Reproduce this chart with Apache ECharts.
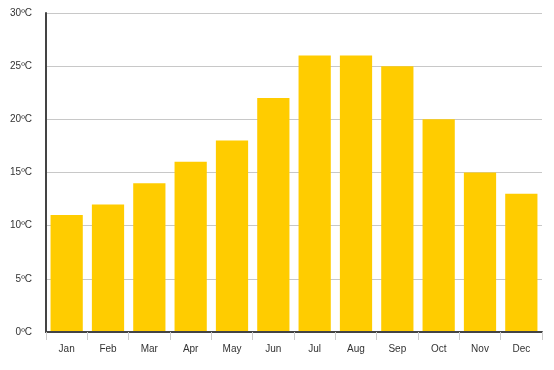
<!DOCTYPE html>
<html><head><meta charset="utf-8">
<script src="https://cdn.jsdelivr.net/npm/echarts@6/dist/echarts.min.js"></script>
<style>html,body{margin:0;padding:0;background:#fff}#c{width:554px;height:370px}</style>
</head><body><div id="c"></div>
<script>
const months = ['Jan','Feb','Mar','Apr','May','Jun','Jul','Aug','Sep','Oct','Nov','Dec'];
const temps = [11,12,14,16,18,22,26,26,25,20,15,13];
const yMin = 0, yMax = 30, yStep = 5;
const chart = echarts.init(document.getElementById('c'), null, {renderer:'canvas'});
chart.setOption({
  animation:false,
  grid:{left:46,right:12,top:13,bottom:38,containLabel:false},
  xAxis:{type:'category',data:months,z:5,
    axisLine:{lineStyle:{color:'#444',width:2}},
    axisTick:{show:true,length:8,lineStyle:{color:'#ccc'}},
    splitLine:{show:false},
    axisLabel:{color:'#333',fontSize:10,fontFamily:'Liberation Sans, Arial',margin:12}},
  yAxis:{type:'value',min:yMin,max:yMax,interval:yStep,
    axisLine:{show:true,lineStyle:{color:'#444',width:2}},
    axisTick:{show:false},
    splitLine:{lineStyle:{color:'#c8c8c8'}},
    axisLabel:{color:'#333',fontSize:10,fontFamily:'Liberation Sans, Arial',margin:14,formatter:v=>v+'ºC'}},
  series:[{type:'bar',data:temps,barCategoryGap:'22%',itemStyle:{color:'#FFCC00'}}]
});
</script></body></html>
